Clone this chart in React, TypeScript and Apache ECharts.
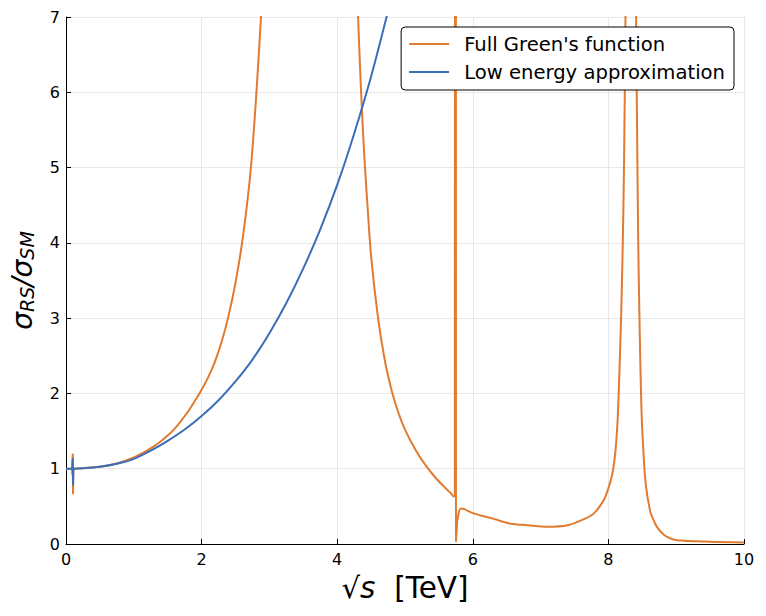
import React, { useEffect, useRef } from "react";
import * as echarts from "echarts";

// Full Green's function (x = sqrt(s) in TeV, y = sigma_RS / sigma_SM)
const greenX = [
  0, 0.05, 0.09, 0.093, 0.096, 0.1, 0.104, 0.108, 0.25, 0.5, 0.75, 1.0, 1.1, 1.2, 1.3, 1.4, 1.5, 1.6, 1.7,
  1.8, 1.9, 2.0, 2.1, 2.2, 2.3, 2.4, 2.5, 2.6, 2.7, 2.75, 2.8, 2.85, 2.9, 2.95, 3.0, 3.6, 4.2, 4.25,
  4.3, 4.35, 4.4, 4.45, 4.5, 4.6, 4.7, 4.8, 4.9, 5.0, 5.15, 5.3, 5.45, 5.6, 5.68, 5.72, 5.735, 5.745,
  5.752, 5.77, 5.8, 5.83, 6.0, 6.32, 6.56, 6.81, 7.1, 7.4, 7.64, 7.79, 7.93, 8.0, 8.06, 8.1, 8.13, 8.15,
  8.17, 8.19, 8.21, 8.23, 8.25, 8.27, 8.33, 8.38, 8.40, 8.42, 8.44, 8.46, 8.48, 8.5, 8.55, 8.62, 8.67,
  8.72, 8.81, 8.9, 9.01, 9.5, 10,
];
const greenY = [
  1.0, 1.0, 1.0, 0.92, 1.09, 1.2, 0.66, 1.0, 1.005, 1.025, 1.07, 1.15, 1.195, 1.245, 1.3, 1.365, 1.44, 1.53, 1.64,
  1.76, 1.9, 2.05, 2.22, 2.43, 2.7, 3.04, 3.47, 4.02, 4.75, 5.25, 5.88, 6.6, 7.4, 8.4, 9.8, 60, 10.5, 8.6,
  7.2, 6.05, 5.15, 4.45, 3.82, 3.02, 2.45, 2.05, 1.75, 1.52, 1.26, 1.05, 0.88, 0.74, 0.67, 0.63, 0.63, 40,
  0.03, 0.3, 0.45, 0.47, 0.41, 0.33, 0.27, 0.25, 0.23, 0.25, 0.33, 0.41, 0.58, 0.74, 0.94, 1.2, 1.55, 1.95,
  2.5, 3.1, 3.9, 5.0, 6.8, 9, 40, 10, 8, 5.8, 4.0, 2.9, 2.05, 1.5, 0.8, 0.42, 0.31,
  0.22, 0.13, 0.08, 0.05, 0.03, 0.02,
];
// x ranges drawn as straight segments (sharp features); the rest is smoothed
const greenSharp = [
  [0, 0.25],
  [5.735, 5.8],
];

// Low energy approximation
const lowX = [
  0, 0.05, 0.09, 0.1, 0.104, 0.108, 0.25, 0.5, 0.75, 1.0, 1.25, 1.5, 1.75, 2.0, 2.25, 2.5, 2.75,
  3.0, 3.25, 3.5, 3.75, 4.0, 4.25, 4.5, 4.75, 5.0,
];
const lowY = [
  1.0, 1.0, 1.0, 1.14, 0.78, 1.0, 1.005, 1.025, 1.065, 1.13, 1.24, 1.37, 1.52, 1.7, 1.91, 2.16, 2.45,
  2.8, 3.2, 3.66, 4.18, 4.77, 5.45, 6.21, 7.08, 8.0,
];
const lowSharp = [[0, 0.25]];

const xTicks = [0, 2, 4, 6, 8, 10];
const yTicks = [0, 1, 2, 3, 4, 5, 6, 7];

const GREEN_NAME = "Full Green's function";
const LOW_NAME = "Low energy approximation";
const ORANGE = "#e07b30";
const BLUE = "#3b6eb8";
const FONT = "DejaVu Sans";

// split a curve into pieces: sharp ranges unsmoothed, the others smoothed
function pieces(xs: number[], ys: number[], sharp: number[][]) {
  const pts = xs.map((x, i) => [x, ys[i]]);
  const bounds: number[] = [];
  sharp.forEach(([a, b]) => bounds.push(a, b));
  const marks = Array.from(new Set([xs[0], ...bounds, xs[xs.length - 1]])).sort((p, q) => p - q);
  const out: { data: number[][]; smooth: boolean }[] = [];
  for (let k = 0; k < marks.length - 1; k++) {
    const a = marks[k];
    const b = marks[k + 1];
    const isSharp = sharp.some(([sa, sb]) => a >= sa && b <= sb);
    out.push({ data: pts.filter((p) => p[0] >= a && p[0] <= b), smooth: !isSharp });
  }
  return out;
}

export default function App() {
  const ref = useRef<HTMLDivElement>(null);
  useEffect(() => {
    document.body.style.margin = "0";
    const chart = echarts.init(ref.current!, null, { renderer: "svg" });
    const mk = (name: string, color: string, xs: number[], ys: number[], sharp: number[][]) =>
      pieces(xs, ys, sharp).map((p) => ({
        name,
        type: "line",
        data: p.data,
        symbol: "none",
        clip: true,
        smooth: p.smooth ? 0.3 : false,
        itemStyle: { color },
        lineStyle: { color, width: 2 },
        emphasis: { disabled: true },
      }));
    const icon = "path://M0,0 L40,0 L40,2 L0,2 Z";
    chart.setOption({
      animation: false,
      backgroundColor: "#ffffff",
      textStyle: { fontFamily: FONT },
      grid: { left: 63, right: 22, top: 17, bottom: 72, containLabel: false },
      legend: {
        orient: "vertical",
        right: 32,
        top: 27,
        padding: [7, 9, 8, 8],
        itemGap: 8,
        itemWidth: 40,
        itemHeight: 14,
        borderColor: "#000",
        borderWidth: 1,
        borderRadius: 4,
        backgroundColor: "#fff",
        textStyle: { fontSize: 19.6, lineHeight: 20, color: "#000", fontFamily: FONT, padding: [0, 0, 0, 10] },
        data: [
          { name: GREEN_NAME, icon },
          { name: LOW_NAME, icon },
        ],
      },
      xAxis: {
        type: "value",
        min: xTicks[0],
        max: xTicks[xTicks.length - 1],
        interval: 2,
        name: "{r|√}{s|s}{t|  [TeV]}",
        nameLocation: "middle",
        nameGap: 29,
        nameTextStyle: {
          rich: {
            r: { fontSize: 29, fontFamily: FONT, color: "#000" },
            s: { fontSize: 29.5, fontFamily: FONT, fontStyle: "italic", color: "#000" },
            t: { fontSize: 29.5, fontFamily: FONT, color: "#000" },
          },
        },
        axisLine: { show: true, onZero: false, lineStyle: { color: "#000", width: 1 } },
        axisTick: { show: true, inside: true, length: 5, lineStyle: { color: "#000" } },
        axisLabel: { fontSize: 16, color: "#000", margin: 7, fontFamily: FONT },
        splitLine: { show: true, lineStyle: { color: "#e8e8e8", width: 1 } },
      },
      yAxis: {
        type: "value",
        min: yTicks[0],
        max: yTicks[yTicks.length - 1],
        interval: 1,
        name: "{a|σ}{b|RS}{a|/σ}{b|SM}",
        nameLocation: "middle",
        nameGap: 30,
        nameTextStyle: {
          rich: {
            a: { fontSize: 28, fontFamily: FONT, fontStyle: "italic", color: "#000", verticalAlign: "bottom", lineHeight: 32 },
            b: { fontSize: 19, fontFamily: FONT, fontStyle: "italic", color: "#000", verticalAlign: "bottom", lineHeight: 24 },
          },
        },
        axisLine: { show: true, onZero: false, lineStyle: { color: "#000", width: 1 } },
        axisTick: { show: true, inside: true, length: 5, lineStyle: { color: "#000" } },
        axisLabel: { fontSize: 16, color: "#000", margin: 6, fontFamily: FONT },
        splitLine: { show: true, lineStyle: { color: "#e8e8e8", width: 1 } },
      },
      series: [
        ...mk(GREEN_NAME, ORANGE, greenX, greenY, greenSharp),
        ...mk(LOW_NAME, BLUE, lowX, lowY, lowSharp),
      ],
    });
    return () => chart.dispose();
  }, []);
  return <div ref={ref} style={{ width: 766, height: 616 }} />;
}
